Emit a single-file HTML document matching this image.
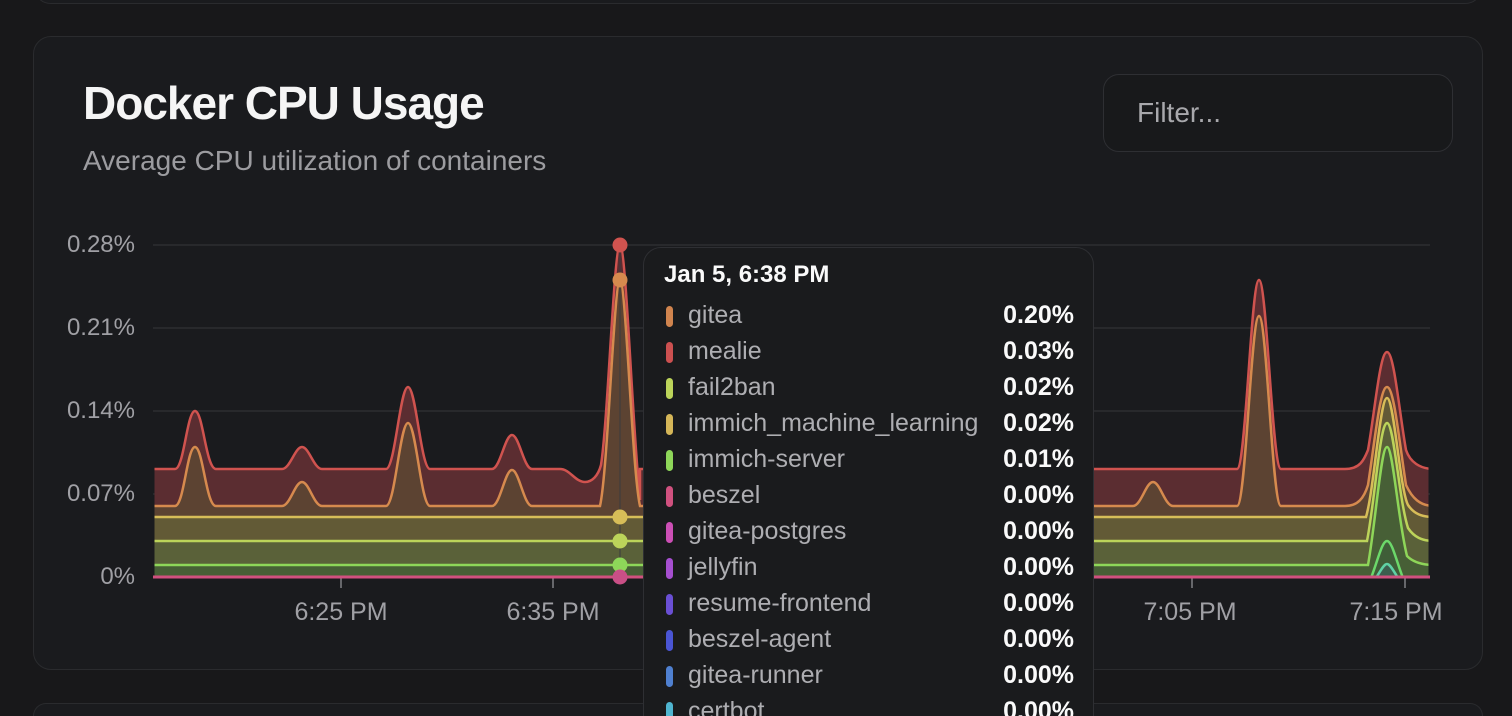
<!DOCTYPE html>
<html><head><meta charset="utf-8"><style>
html,body{margin:0;padding:0;background:#18181a;width:1512px;height:716px;overflow:hidden;font-family:"Liberation Sans",sans-serif;position:relative;}
.card{position:absolute;left:33px;top:36px;width:1448px;height:632px;border:1px solid #2a2b2e;border-radius:18px;background:#1a1b1e;}
.topcard{position:absolute;left:33px;top:-40px;width:1448px;height:42px;border:1px solid #2a2b2e;border-radius:18px;background:#1a1b1e;}
.botcard{position:absolute;left:33px;top:703px;width:1448px;height:12px;border:1px solid #2a2b2e;border-bottom:none;border-radius:18px 18px 0 0;background:#1a1b1e;}
.title{position:absolute;left:83px;top:76px;font-size:46px;font-weight:bold;color:#f5f5f5;letter-spacing:-1px;}
.sub{position:absolute;left:83px;top:145px;font-size:28px;color:#9c9ca0;}
.filter{position:absolute;left:1103px;top:74px;width:348px;height:76px;border:1px solid #2e2f33;border-radius:16px;background:#18191b;}
.filter span{position:absolute;left:33px;top:22px;font-size:28px;color:#a8a8ac;}
.yl{position:absolute;right:1377px;font-size:24px;color:#a0a0a5;}
.xl{position:absolute;top:598px;font-size:25px;color:#a0a0a5;transform:translateX(-50%);}
.tip{position:absolute;left:643px;top:247px;width:449px;height:500px;border:1px solid #2e2f33;border-radius:18px;background:#1a1b1d;}
.tip .h{position:absolute;left:20px;top:13px;font-size:24px;font-weight:bold;color:#fafafa;}
.row{position:absolute;left:20px;width:410px;height:36px;}
.row i{position:absolute;left:2px;top:9px;width:7px;height:21px;border-radius:4px;}
.row .n{position:absolute;left:24px;top:4px;font-size:25px;color:#aeaeb2;}
.row .v{position:absolute;right:0px;top:4px;font-size:25px;font-weight:bold;color:#fafafa;}
</style></head><body>
<div class="topcard"></div>
<div class="card"></div>
<div class="botcard"></div>
<div class="title">Docker CPU Usage</div>
<div class="sub">Average CPU utilization of containers</div>
<div class="filter"><span>Filter...</span></div>
<div class="yl" style="top:231px">0.28%</div>
<div class="yl" style="top:314px">0.21%</div>
<div class="yl" style="top:397px">0.14%</div>
<div class="yl" style="top:480px">0.07%</div>
<div class="yl" style="top:563px">0%</div>
<div class="xl" style="left:341px">6:25 PM</div>
<div class="xl" style="left:553px">6:35 PM</div>
<div class="xl" style="left:1190px">7:05 PM</div>
<div class="xl" style="left:1396px">7:15 PM</div>
<svg style="position:absolute;left:0;top:0" width="1512" height="716">
<defs><clipPath id="c"><rect x="154.5" y="200" width="1274" height="377"/></clipPath></defs>
<g stroke="#28292c" stroke-width="2">
<line x1="153" y1="245" x2="1430" y2="245"/><line x1="153" y1="328" x2="1430" y2="328"/>
<line x1="153" y1="411" x2="1430" y2="411"/><line x1="153" y1="494" x2="1430" y2="494"/>
</g>
<g stroke="#66676b" stroke-width="2">
<line x1="341" y1="578" x2="341" y2="588"/><line x1="553" y1="578" x2="553" y2="588"/>
<line x1="1192" y1="578" x2="1192" y2="588"/><line x1="1405" y1="578" x2="1405" y2="588"/>
</g>
<g clip-path="url(#c)">
<path fill="#5b2d31" stroke="#d0534f" stroke-width="2.5" d="M150 469 L175 469 C184 469 187 411 195 411 C203 411 206 469 216 469 L282 469 C290 469 295 447 302 447 C309 447 314 469 322 469 L386 469 C395 469 400 387 408 387 C416 387 421 469 430 469 L492 469 C500 469 505 435 512 435 C519 435 524 469 532 469 L560 469 C570 469 575 482 585 482 C592 482 598 476 601 465 C608 420 614 245 620 245 C626 245 632 420 640 500 L640 469 L1237 469 C1246 469 1251 280 1259 280 C1267 280 1272 469 1281 469 L1345 469 C1360 469 1364 460 1368 450 C1375 410 1380 352 1387 352 C1394 352 1399 410 1406 450 C1410 462 1420 469 1434 469 L1434 580 L150 580 Z"/>
<path fill="#5c4332" stroke="#d68a4e" stroke-width="2.5" d="M150 506 L175 506 C184 506 187 447 195 447 C203 447 206 506 216 506 L282 506 C290 506 295 482 302 482 C309 482 314 506 322 506 L386 506 C395 506 400 423 408 423 C416 423 421 506 430 506 L492 506 C500 506 505 470 512 470 C519 470 524 506 532 506 L600 506 C608 470 614 280 620 280 C626 280 632 470 640 506 L1133 506 C1141 506 1146 482 1153 482 C1160 482 1165 506 1173 506 L1237 506 C1246 506 1251 316 1259 316 C1267 316 1272 506 1281 506 L1345 506 C1358 506 1364 498 1368 485 C1375 440 1380 387 1387 387 C1394 387 1399 440 1406 485 C1412 498 1420 506 1434 506 L1434 580 L150 580 Z"/>
<path fill="#625a36" stroke="#d7bd58" stroke-width="2.5" d="M150 517 L1366 517 C1374 490 1380 398 1387 398 C1394 398 1400 490 1408 505 C1414 514 1422 517 1434 517 L1434 580 L150 580 Z"/>
<path fill="#5a6139" stroke="#bcd45a" stroke-width="2.5" d="M150 541 L1367 541 C1375 500 1380 423 1387 423 C1394 423 1399 500 1408 528 C1414 537 1422 541 1434 541 L1434 580 L150 580 Z"/>
<path fill="#475f36" stroke="#8ed659" stroke-width="2.5" d="M150 565 L1368 565 C1376 520 1381 447 1387 447 C1393 447 1398 520 1407 556 C1413 562 1422 565 1434 565 L1434 580 L150 580 Z"/>
<path fill="#3f5e38" stroke="#6cd86a" stroke-width="2.5" d="M1371 578 C1378 560 1382 541 1387 541 C1392 541 1396 560 1403 578 Z"/>
<path fill="#3d5e4e" stroke="#5fd1a5" stroke-width="2.5" d="M1376 578 C1381 570 1384 564 1387 564 C1390 564 1393 570 1398 578 Z"/>
</g>
<line x1="153" y1="577" x2="1430" y2="577" stroke="#d0517f" stroke-width="3"/>
<line x1="620" y1="245" x2="620" y2="577" stroke="#3a3b3e" stroke-width="1"/>
<circle cx="620" cy="245" r="7.5" fill="#d0534f"/>
<circle cx="620" cy="280" r="7.5" fill="#d68a4e"/>
<circle cx="620" cy="517" r="7.5" fill="#d7bd58"/>
<circle cx="620" cy="541" r="7.5" fill="#bcd45a"/>
<circle cx="620" cy="565" r="7.5" fill="#8ed659"/>
<circle cx="620" cy="577" r="7.5" fill="#c94f86"/>
</svg>
<div class="tip">
<div class="h">Jan 5, 6:38 PM</div>
<div class="row" style="top:49px"><i style="background:#d0844e"></i><span class="n">gitea</span><span class="v">0.20%</span></div>
<div class="row" style="top:85px"><i style="background:#cc5050"></i><span class="n">mealie</span><span class="v">0.03%</span></div>
<div class="row" style="top:121px"><i style="background:#bcd45a"></i><span class="n">fail2ban</span><span class="v">0.02%</span></div>
<div class="row" style="top:157px"><i style="background:#d5b658"></i><span class="n">immich_machine_learning</span><span class="v">0.02%</span></div>
<div class="row" style="top:193px"><i style="background:#8ed659"></i><span class="n">immich-server</span><span class="v">0.01%</span></div>
<div class="row" style="top:229px"><i style="background:#d0517f"></i><span class="n">beszel</span><span class="v">0.00%</span></div>
<div class="row" style="top:265px"><i style="background:#cc4fb5"></i><span class="n">gitea-postgres</span><span class="v">0.00%</span></div>
<div class="row" style="top:301px"><i style="background:#a64fd0"></i><span class="n">jellyfin</span><span class="v">0.00%</span></div>
<div class="row" style="top:337px"><i style="background:#6a4fd4"></i><span class="n">resume-frontend</span><span class="v">0.00%</span></div>
<div class="row" style="top:373px"><i style="background:#4a55d4"></i><span class="n">beszel-agent</span><span class="v">0.00%</span></div>
<div class="row" style="top:409px"><i style="background:#4f80d0"></i><span class="n">gitea-runner</span><span class="v">0.00%</span></div>
<div class="row" style="top:445px"><i style="background:#4fb5d0"></i><span class="n">certbot</span><span class="v">0.00%</span></div>
</div>
</body></html>
